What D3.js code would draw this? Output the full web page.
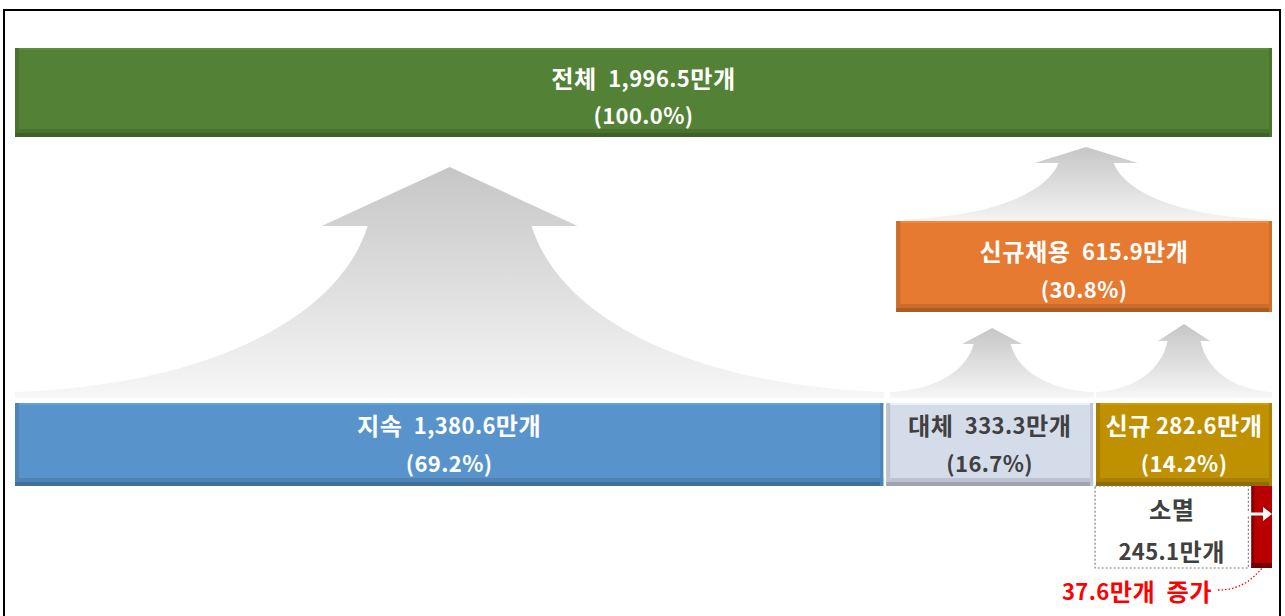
<!DOCTYPE html>
<html><head><meta charset="utf-8">
<script src="https://cdn.jsdelivr.net/npm/d3@7/dist/d3.min.js"></script>
<style>
html,body{margin:0;padding:0;background:#fff;}
svg{display:block;}
text{font-family:"Noto Sans CJK KR","Noto Sans",sans-serif;font-weight:700;}
</style></head>
<body>
<script>
// ---- data ----
const totalLabel = "전체";
const totalValue = 1996.5;
const totalShare = 100.0;
const categories = ["지속", "대체", "신규"];
const values = [1380.6, 333.3, 282.6];
const shares = [69.2, 16.7, 14.2];
const newHireLabel = "신규채용";
const newHireValue = 615.9;
const newHireShare = 30.8;
const extinctLabel = "소멸";
const extinctValue = 245.1;
const netLabel = "증가";
const netValue = 37.6;
const unit = "만개";

// ---- styles ----
const colors = {"지속": "#5894CB", "대체": "#D5DCE9", "신규": "#BF9000"};
const textColors = {"지속": "#ffffff", "대체": "#404040", "신규": "#ffffff"};

const W = 1285, H = 616;
const svg = d3.select("body").append("svg").attr("width", W).attr("height", H);
const defs = svg.append("defs");
const grad = defs.append("linearGradient").attr("id", "arrowGrad")
  .attr("x1", 0).attr("y1", 0).attr("x2", 0).attr("y2", 1);
grad.append("stop").attr("offset", "0%").attr("stop-color", "#c6c6c6");
grad.append("stop").attr("offset", "55%").attr("stop-color", "#e0e0e0");
grad.append("stop").attr("offset", "100%").attr("stop-color", "#f7f7f7");

const x = d3.scaleLinear().domain([0, totalValue]).range([15, 1272]);
const fmt = d3.format(",.1f");

// frame
svg.append("rect").attr("x", 4).attr("y", 10).attr("width", 1276).attr("height", 640)
  .attr("fill", "none").attr("stroke", "#000").attr("stroke-width", 2);

function bevelBar(g, x0, x1, y0, y1, color) {
  const c = d3.color(color);
  g.append("rect").attr("x", x0).attr("y", y0).attr("width", x1 - x0).attr("height", y1 - y0).attr("fill", color);
  g.append("rect").attr("x", x0).attr("y", y0).attr("width", x1 - x0).attr("height", 2).attr("fill", c.brighter(0.25));
  g.append("rect").attr("x", x0).attr("y", y0).attr("width", 4).attr("height", y1 - y0).attr("fill", c.darker(0.35));
  g.append("rect").attr("x", x0 + 4).attr("y", y1 - 8).attr("width", x1 - x0 - 4).attr("height", 4).attr("fill", c.darker(0.35));
  g.append("rect").attr("x", x0).attr("y", y1 - 4).attr("width", x1 - x0).attr("height", 4).attr("fill", c.darker(0.8));
  g.append("rect").attr("x", x1 - 3).attr("y", y0).attr("width", 3).attr("height", y1 - y0).attr("fill", c.darker(0.3));
}

function arrow(g, x0, x1, yBottom, yHeadBase, yTip, headW, stemW) {
  const cx = (x0 + x1) / 2;
  const sl = cx - stemW / 2, sr = cx + stemW / 2;
  const hl = cx - headW / 2, hr = cx + headW / 2;
  const span = yBottom - yHeadBase;
  const p = d3.path();
  p.moveTo(x0, yBottom + 6);
  p.lineTo(x0, yBottom);
  p.bezierCurveTo(x0 + (sl - x0) * 0.55, yBottom - span * 0.04, sl - (sl - x0) * 0.08, yBottom - span * 0.45, sl, yHeadBase);
  p.lineTo(hl, yHeadBase);
  p.lineTo(cx, yTip);
  p.lineTo(hr, yHeadBase);
  p.lineTo(sr, yHeadBase);
  p.bezierCurveTo(sr + (x1 - sr) * 0.08, yBottom - span * 0.45, x1 - (x1 - sr) * 0.55, yBottom - span * 0.04, x1, yBottom);
  p.lineTo(x1, yBottom + 6);
  p.closePath();
  g.append("path").attr("d", p.toString()).attr("fill", "url(#arrowGrad)");
}

// text with Hangul runs slightly larger (to mimic Malgun Gothic proportions)
function richText(g, cx, y, str, color, size) {
  const t = g.append("text").attr("x", cx).attr("y", y).attr("text-anchor", "middle")
    .attr("dominant-baseline", "central").attr("fill", color);
  const runs = str.match(/[\uAC00-\uD7A3]+|[^\uAC00-\uD7A3]+/g) || [];
  runs.forEach(r => {
    const hangul = /[\uAC00-\uD7A3]/.test(r);
    t.append("tspan").attr("font-size", hangul ? size * 1.1 : size)
      .attr("letter-spacing", hangul ? 0.5 : 0.4)
      .style("white-space", "pre").text(r.replace(/ /g, "\u2002"));
  });
  return t;
}

function label2(g, cx, y1, y2, line1, line2, color, size) {
  richText(g, cx, y1, line1, color, size);
  richText(g, cx, y2, line2, color, size);
}

// cumulative positions
let cum = 0;
const segs = categories.map((c, i) => { const s = {cat: c, v: values[i], share: shares[i], a: cum, b: cum + values[i]}; cum += values[i]; return s; });

const arrows = svg.append("g");
arrow(arrows, x(segs[0].a), x(segs[0].b), 392, 226, 167, 256, 164);
arrow(arrows, x(segs[1].a) + 6, x(segs[1].b), 392, 344, 328, 60, 37);
arrow(arrows, x(segs[2].a) + 2, x(segs[2].b), 392, 341, 324, 52, 33);
arrow(arrows, x(segs[1].a) + 20, x(totalValue) - 4, 219, 163, 147, 103, 55);

// total bar
const gt = svg.append("g");
bevelBar(gt, x(0), x(totalValue), 48, 137, "#538135");
label2(gt, (x(0) + x(totalValue)) / 2, 77, 114, `${totalLabel} ${fmt(totalValue)}${unit}`, `(${totalShare.toFixed(1)}%)`, "#fff", 22);

// new hire bar (대체 + 신규)
const gn = svg.append("g");
const nx0 = x(totalValue - newHireValue) + 12;
bevelBar(gn, nx0, x(totalValue), 221, 312, "#E67A30");
label2(gn, (nx0 + x(totalValue)) / 2, 250, 288, `${newHireLabel} ${fmt(newHireValue)}${unit}`, `(${newHireShare.toFixed(1)}%)`, "#fff", 22);

// bottom segments
const gb = svg.append("g");
segs.forEach((s, i) => {
  const x0 = x(s.a) + (i > 0 ? 2 : 0);
  const x1 = x(s.b) - (i < segs.length - 1 ? 1 : 0);
  bevelBar(gb, x0, x1, 403, 486, colors[s.cat]);
  label2(gb, (x0 + x1) / 2, 424, 462, `${s.cat}${i === 2 ? "" : " "}${i === 2 ? "\u2009" : ""}${fmt(s.v)}${unit}`, `(${s.share.toFixed(1)}%)`, textColors[s.cat], 22);
});

// extinct dotted box
const extX0 = x(segs[2].a) + 1, extX1 = x(segs[2].a + extinctValue);
svg.append("rect").attr("x", extX0).attr("y", 486).attr("width", extX1 - extX0).attr("height", 82)
  .attr("fill", "#fff").attr("stroke", "#7f7f7f").attr("stroke-width", 1.2).attr("stroke-dasharray", "2,2");
label2(svg, (extX0 + extX1) / 2, 508, 550, extinctLabel, `${fmt(extinctValue)}${unit}`, "#404040", 22);

// net increase red bar
const rx0 = x(segs[2].a + extinctValue) + 3, rx1 = x(totalValue);
const gr = svg.append("g");
gr.append("rect").attr("x", rx0).attr("y", 486).attr("width", rx1 - rx0).attr("height", 82).attr("fill", "#B80000");
gr.append("rect").attr("x", rx0).attr("y", 486).attr("width", 3).attr("height", 82).attr("fill", "#8a0000");
gr.append("rect").attr("x", rx0).attr("y", 563).attr("width", rx1 - rx0).attr("height", 5).attr("fill", "#700000");
gr.append("line").attr("x1", extX1 - 2).attr("x2", rx1 - 6).attr("y1", 514).attr("y2", 514)
  .attr("stroke", "#fff").attr("stroke-width", 3);
gr.append("path").attr("d", `M${rx1 - 9},${507} L${rx1},${514} L${rx1 - 9},${521} Z`).attr("fill", "#fff");

// net label and connector
richText(svg, 1137, 590, `${netValue.toFixed(1)}${unit} ${netLabel}`, "#FF0000", 22);
svg.append("path").attr("d", `M1218,590 C1240,590 1252,580 1263,567`).attr("fill", "none")
  .attr("stroke", "#FF0000").attr("stroke-width", 1.3).attr("stroke-dasharray", "1.5,2");
</script>
</body></html>
